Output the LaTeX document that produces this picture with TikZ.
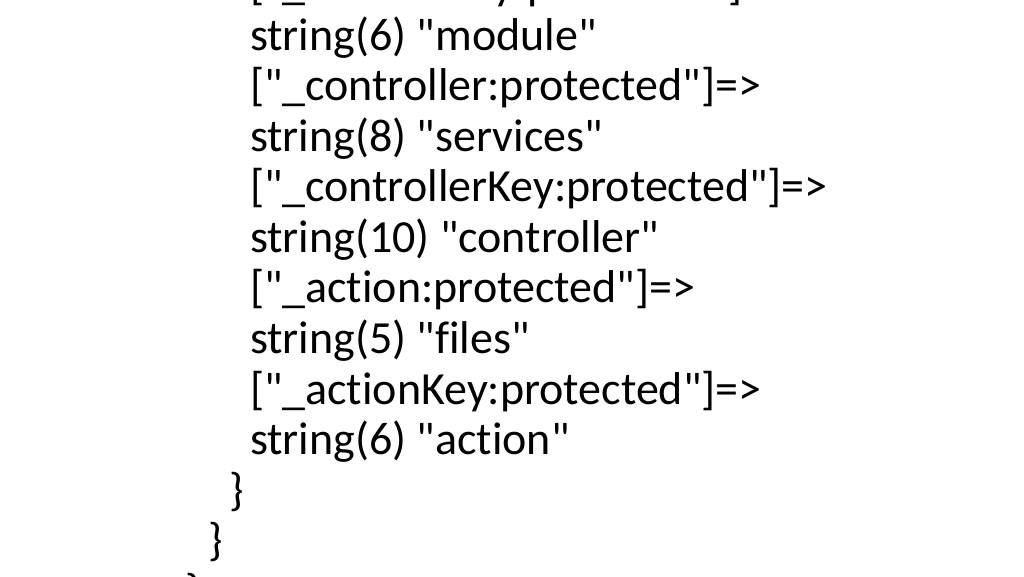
\documentclass[tikz,border=0pt]{standalone}
\usepackage{fontspec}
\newfontfamily\codefont{Carlito}[Ligatures={NoCommon}]
\begin{document}
\begin{tikzpicture}[x=1pt,y=1pt,
  codeline/.style={anchor=base west,inner sep=0pt,outer sep=0pt,font=\codefont\fontsize{46}{50}\selectfont}]
\useasboundingbox[fill=white] (0,0) rectangle (1024,576);
\node[codeline] (l0) at (250,576) {["\_moduleKey:protected"]=>};
\node[codeline] (l1) at (250,525.5) {string(6) "module"};
\node[codeline] (l2) at (250,475) {["\_controller:protected"]=>};
\node[codeline] (l3) at (250,424.5) {string(8) "services"};
\node[codeline] (l4) at (250,374) {["\_controllerKey:protected"]=>};
\node[codeline] (l5) at (250,323.5) {string(10) "controller"};
\node[codeline] (l6) at (250,273) {["\_action:protected"]=>};
\node[codeline] (l7) at (250,222.5) {string(5) "files"};
\node[codeline] (l8) at (250,172) {["\_actionKey:protected"]=>};
\node[codeline] (l9) at (250,121.5) {string(6) "action"};
\node[codeline] (b1) at (229,71) {\}};
\node[codeline] (b2) at (208,20.5) {\}};
\node[codeline] (b3) at (185,-30) {\}};
\end{tikzpicture}
\end{document}
